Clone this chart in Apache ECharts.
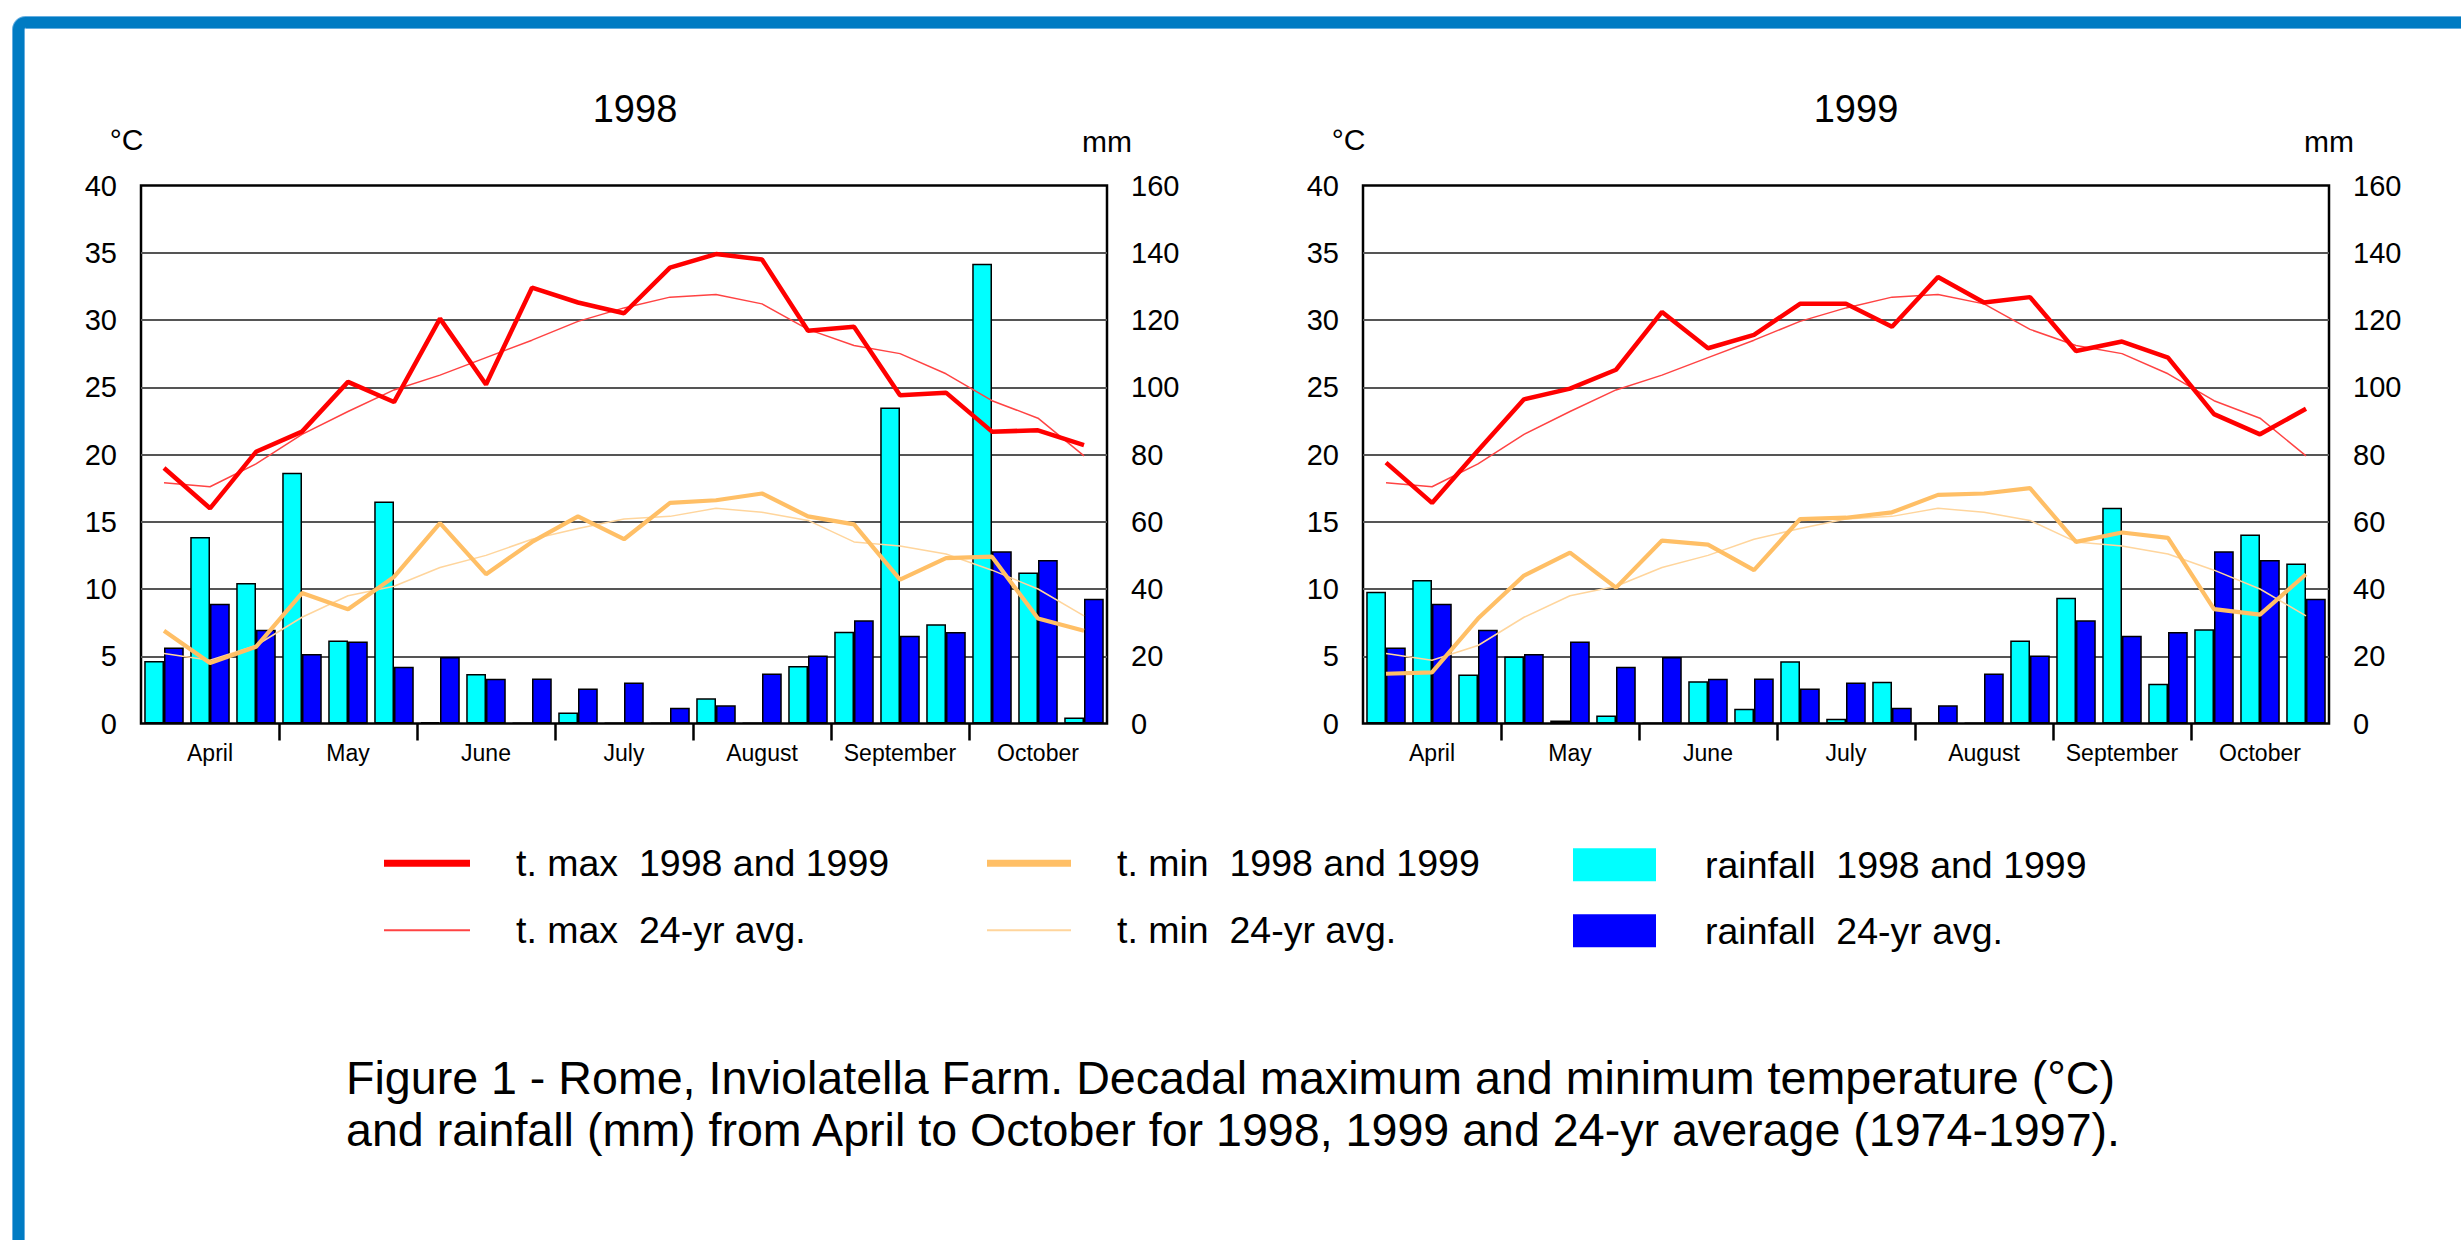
<!DOCTYPE html>
<html>
<head>
<meta charset="utf-8">
<title>Rome, Inviolatella Farm – decadal temperature and rainfall</title>
<script src="https://cdn.jsdelivr.net/npm/echarts@6/dist/echarts.min.js"></script>
<style>
  html, body { margin: 0; padding: 0; background: #ffffff; }
  #chart { width: 2461px; height: 1240px; }
</style>
</head>
<body>
<div id="chart"></div>
<script>
// Ten-day periods (decades) from April to October: three per month
const decades = [
  'Apr 1', 'Apr 2', 'Apr 3', 'May 1', 'May 2', 'May 3', 'Jun 1', 'Jun 2', 'Jun 3',
  'Jul 1', 'Jul 2', 'Jul 3', 'Aug 1', 'Aug 2', 'Aug 3', 'Sep 1', 'Sep 2', 'Sep 3',
  'Oct 1', 'Oct 2', 'Oct 3'
];
const months = ['April', 'May', 'June', 'July', 'August', 'September', 'October'];

// Temperature axis (°C) and rainfall axis (mm)
const tempMin = 0, tempMax = 40, tempStep = 5;
const rainMin = 0, rainMax = 160, rainStep = 20;

// 24-year averages (1974-1997)
const tmaxAvg = [17.9, 17.6, 19.3, 21.5, 23.2, 24.8, 25.9, 27.2, 28.5, 29.9, 30.9, 31.7, 31.9, 31.2, 29.3, 28.1, 27.5, 26.0, 24.0, 22.7, 19.9];
const tminAvg = [5.2, 4.7, 5.8, 7.9, 9.5, 10.2, 11.6, 12.5, 13.7, 14.5, 15.2, 15.4, 16.0, 15.7, 15.1, 13.5, 13.2, 12.6, 11.4, 10.0, 8.0];
const rainAvg = [22.6, 35.6, 27.9, 20.7, 24.4, 16.9, 19.8, 13.3, 13.4, 10.4, 12.2, 4.7, 5.4, 14.9, 20.2, 30.7, 26.1, 27.2, 51.2, 48.6, 37.1];

// 1998
const tmax1998 = [19.0, 16.0, 20.2, 21.7, 25.4, 23.9, 30.1, 25.2, 32.4, 31.3, 30.5, 33.9, 34.9, 34.5, 29.2, 29.5, 24.4, 24.6, 21.7, 21.8, 20.7];
const tmin1998 = [6.9, 4.5, 5.7, 9.7, 8.5, 10.9, 14.9, 11.1, 13.5, 15.4, 13.7, 16.4, 16.6, 17.1, 15.4, 14.8, 10.7, 12.3, 12.4, 7.8, 6.9];
const rain1998 = [18.6, 55.5, 41.8, 74.6, 24.7, 66.0, 0.4, 14.7, 0.2, 3.3, 0.2, 0.2, 7.5, 0.2, 17.1, 27.3, 94.0, 29.5, 136.7, 44.9, 1.8];

// 1999
const tmax1999 = [19.4, 16.4, 20.3, 24.1, 24.9, 26.3, 30.6, 27.9, 28.9, 31.2, 31.2, 29.5, 33.2, 31.3, 31.7, 27.7, 28.4, 27.2, 23.0, 21.5, 23.4];
const tmin1999 = [3.7, 3.8, 7.8, 11.0, 12.7, 10.1, 13.6, 13.3, 11.4, 15.2, 15.3, 15.7, 17.0, 17.1, 17.5, 13.5, 14.2, 13.8, 8.5, 8.1, 11.1];
const rain1999 = [39.2, 42.7, 14.6, 19.9, 0.9, 2.4, 0.2, 12.6, 4.4, 18.5, 1.4, 12.4, 0.2, 0.2, 24.7, 37.4, 64.2, 11.8, 28.0, 56.2, 47.6];

const panelTitles = ['1998', '1999'];
const captionLines = [
  'Figure 1 - Rome, Inviolatella Farm. Decadal maximum and minimum temperature (°C)',
  'and rainfall (mm) from April to October for 1998, 1999 and 24-yr average (1974-1997).'
];

const NAMES = {
  tmax: 't. max  1998 and 1999',
  tmaxAvg: 't. max  24-yr avg.',
  tmin: 't. min  1998 and 1999',
  tminAvg: 't. min  24-yr avg.',
  rain: 'rainfall  1998 and 1999',
  rainAvg: 'rainfall  24-yr avg.'
};

const COLORS = {
  tmax: '#ff0000',
  tmaxAvg: '#ff4343',
  tmin: '#ffbf66',
  tminAvg: '#ffd59c',
  rain: '#00ffff',
  rainAvg: '#0000ff'
};

const FONT = '"Liberation Sans", Arial, Helvetica, sans-serif';

// Panel geometry
const panelLeft = [141, 1363];
const plotTop = 185.5, plotW = 966, plotH = 538;

const grids = [], xAxes = [], yAxes = [], series = [];

function addPanel(k, tmax, tmin, rain) {
  grids.push({
    left: panelLeft[k], top: plotTop, width: plotW, height: plotH,
    show: true, borderColor: '#000', borderWidth: 2.5, backgroundColor: 'transparent'
  });
  xAxes.push({
    gridIndex: k, type: 'category', data: decades, boundaryGap: true,
    axisLine: { show: false }, axisTick: { show: false }, axisLabel: { show: false },
    splitLine: { show: false }
  });
  yAxes.push({
    gridIndex: k, type: 'value', position: 'left',
    min: tempMin, max: tempMax, interval: tempStep,
    axisLine: { show: false }, axisTick: { show: false },
    axisLabel: { fontFamily: FONT, fontSize: 29, color: '#000', margin: 24 },
    splitLine: { show: true, showMinLine: false, showMaxLine: false, lineStyle: { color: '#555', width: 2 } },
    name: '°C', nameLocation: 'end', nameGap: 46,
    nameTextStyle: { fontFamily: FONT, fontSize: 30, color: '#000', align: 'center', verticalAlign: 'middle', padding: [0, 29, 0, 0] }
  });
  yAxes.push({
    gridIndex: k, type: 'value', position: 'right',
    min: rainMin, max: rainMax, interval: rainStep,
    axisLine: { show: false }, axisTick: { show: false },
    axisLabel: { fontFamily: FONT, fontSize: 29, color: '#000', margin: 24 },
    splitLine: { show: false },
    name: 'mm', nameLocation: 'end', nameGap: 44.5,
    nameTextStyle: { fontFamily: FONT, fontSize: 30, color: '#000', align: 'center', verticalAlign: 'middle' }
  });

  const xi = k, yT = 2 * k, yR = 2 * k + 1;
  const barBase = {
    type: 'bar', xAxisIndex: xi, yAxisIndex: yR, barGap: '0%', barCategoryGap: '14%'
  };
  series.push(Object.assign({}, barBase, {
    name: NAMES.rain, data: rain,
    itemStyle: { color: COLORS.rain, borderColor: '#000', borderWidth: 1.5 }
  }));
  series.push(Object.assign({}, barBase, {
    name: NAMES.rainAvg, data: rainAvg,
    itemStyle: { color: COLORS.rainAvg, borderColor: '#000', borderWidth: 1.5 }
  }));
  const lineBase = { type: 'line', xAxisIndex: xi, yAxisIndex: yT, symbol: 'none', showSymbol: false, z: 3 };
  series.push(Object.assign({}, lineBase, {
    name: NAMES.tminAvg, data: tminAvg,
    itemStyle: { color: COLORS.tminAvg }, lineStyle: { color: COLORS.tminAvg, width: 1.5 }
  }));
  series.push(Object.assign({}, lineBase, {
    name: NAMES.tmaxAvg, data: tmaxAvg,
    itemStyle: { color: COLORS.tmaxAvg }, lineStyle: { color: COLORS.tmaxAvg, width: 1.5 }
  }));
  series.push(Object.assign({}, lineBase, {
    name: NAMES.tmin, data: tmin,
    itemStyle: { color: COLORS.tmin }, lineStyle: { color: COLORS.tmin, width: 4.2 }
  }));
  series.push(Object.assign({}, lineBase, {
    name: NAMES.tmax, data: tmax,
    itemStyle: { color: COLORS.tmax }, lineStyle: { color: COLORS.tmax, width: 4.5 }
  }));
}

addPanel(0, tmax1998, tmin1998, rain1998);
addPanel(1, tmax1999, tmin1999, rain1999);

// Month strips under each panel: month names and separator ticks between months
for (let k = 0; k < 2; k++) {
  const g = grids.length;
  grids.push({ left: panelLeft[k], top: plotTop + plotH, width: plotW, height: 17, show: false });
  xAxes.push({
    gridIndex: g, type: 'category', data: months, boundaryGap: true,
    axisLine: { show: false }, axisTick: { show: false },
    axisLabel: { interval: 0, fontFamily: FONT, fontSize: 23, color: '#000', margin: 1 },
    splitLine: { show: true, interval: 0, showMinLine: false, showMaxLine: false, lineStyle: { color: '#000', width: 2.5 } }
  });
  yAxes.push({ gridIndex: g, type: 'value', show: false });
}

// Legend: three columns, two rows
function legendEntry(name, left, cy, w, h, gap) {
  return {
    data: [{ name: name, icon: 'rect' }],
    left: left, top: cy - 18.75, padding: 0,
    itemWidth: w, itemHeight: h,
    itemStyle: { borderWidth: 0 },
    textStyle: { fontFamily: FONT, fontSize: 37.5, color: '#000', padding: [0, 0, 0, gap - 5] }
  };
}
const legends = [
  legendEntry(NAMES.tmax, 384, 863, 86, 7, 46),
  legendEntry(NAMES.tmaxAvg, 384, 930, 86, 2, 46),
  legendEntry(NAMES.tmin, 987, 863, 84, 7, 46),
  legendEntry(NAMES.tminAvg, 987, 930, 84, 2, 46),
  legendEntry(NAMES.rain, 1573, 864.5, 83, 33, 49),
  legendEntry(NAMES.rainAvg, 1573, 930.5, 83, 33, 49)
];

function textEl(text, x, y, size, align) {
  return {
    type: 'text', x: x, y: y, silent: true,
    style: {
      text: text, font: size + 'px ' + FONT, fill: '#000',
      align: align, verticalAlign: 'middle',
      textAlign: align, textVerticalAlign: 'middle'
    }
  };
}

const graphics = [
  // blue page frame
  {
    type: 'rect', silent: true, z: -10,
    shape: { x: 18.5, y: 22.5, width: 2700, height: 1500, r: 7 },
    style: { fill: 'none', stroke: '#66aee0', lineWidth: 13 }
  },
  {
    type: 'rect', silent: true, z: -9,
    shape: { x: 18.5, y: 22.5, width: 2700, height: 1500, r: 7 },
    style: { fill: 'none', stroke: '#007bc3', lineWidth: 11 }
  },
  textEl(panelTitles[0], 635, 108.5, 38, 'center'),
  textEl(panelTitles[1], 1856, 108.5, 38, 'center'),
  textEl(captionLines[0], 346, 1078, 46.6, 'left'),
  textEl(captionLines[1], 346, 1130, 46.6, 'left')
];

const chart = echarts.init(document.getElementById('chart'), null, { renderer: 'svg' });
chart.setOption({
  animation: false,
  backgroundColor: '#ffffff',
  textStyle: { fontFamily: FONT },
  grid: grids,
  xAxis: xAxes,
  yAxis: yAxes,
  legend: legends,
  graphic: graphics,
  series: series
});
</script>
</body>
</html>
